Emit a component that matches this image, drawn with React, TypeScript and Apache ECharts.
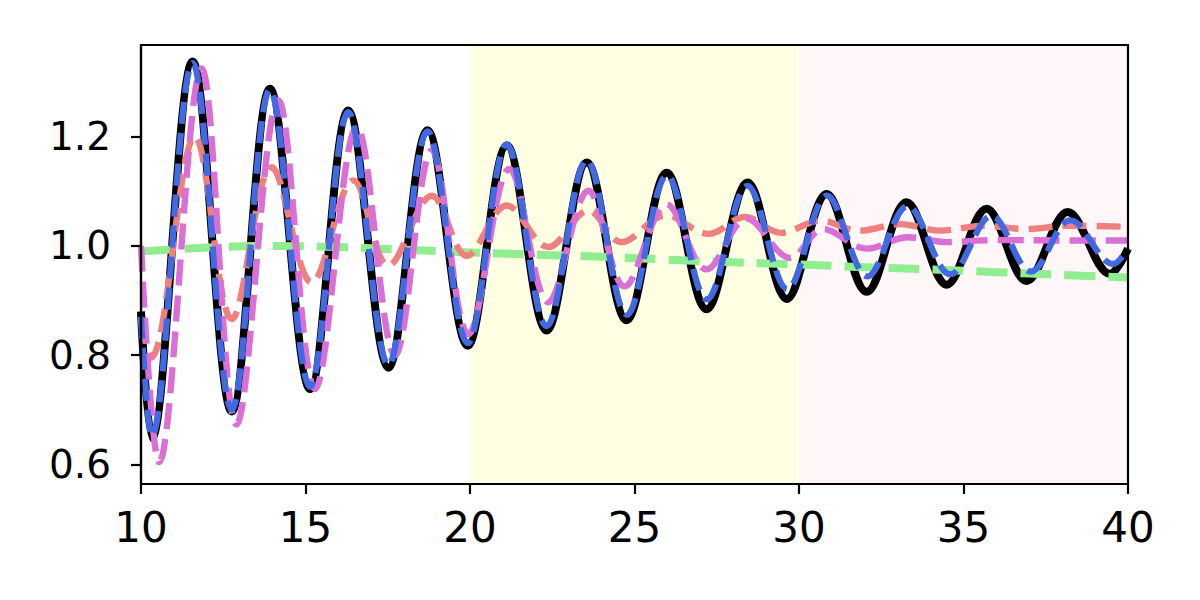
import React, { useEffect, useRef } from "react";
import * as echarts from "echarts";

// Extrema and endpoints: [x, y]
const measured: number[][] = [
  [10, 0.88], [10.33, 0.648], [11.57, 1.338], [12.76, 0.697], [13.92, 1.288],
  [15.14, 0.738], [16.3, 1.248], [17.52, 0.777], [18.71, 1.212], [19.93, 0.817],
  [21.12, 1.184], [22.33, 0.845], [23.55, 1.153], [24.76, 0.864], [25.98, 1.134],
  [27.19, 0.884], [28.44, 1.116], [29.63, 0.903], [30.84, 1.095], [32.06, 0.916],
  [33.27, 1.08], [34.49, 0.929], [35.7, 1.068], [36.92, 0.936], [38.17, 1.062],
  [39.45, 0.949], [40, 0.995],
];

const fitted: number[][] = [
  [10, 0.87], [10.33, 0.652], [11.57, 1.335], [12.76, 0.7], [13.92, 1.286],
  [15.14, 0.742], [16.3, 1.245], [17.52, 0.782], [18.71, 1.21], [19.93, 0.822],
  [21.12, 1.186], [22.33, 0.853], [23.55, 1.157], [24.77, 0.874], [25.99, 1.129],
  [27.2, 0.902], [28.43, 1.11], [29.65, 0.921], [30.85, 1.092], [32.08, 0.944],
  [33.3, 1.073], [34.6, 0.948], [35.85, 1.055], [37.05, 0.953], [38.25, 1.047],
  [39.55, 0.967], [40, 0.995],
];

const orchidLine: number[][] = [
  [10, 1.0], [10.55, 0.604], [11.84, 1.325], [12.9, 0.673], [14.17, 1.267],
  [15.29, 0.738], [16.56, 1.218], [17.72, 0.8], [18.84, 1.175], [19.95, 0.838],
  [21.2, 1.141], [22.38, 0.897], [23.6, 1.101], [24.7, 0.926], [25.98, 1.076],
  [27.19, 0.957], [28.41, 1.05], [29.73, 0.978], [30.74, 1.031], [32.06, 0.995],
  [33.3, 1.016], [34.5, 1.007], [36, 1.011], [38, 1.01], [40, 1.01],
];

const coralLine: number[][] = [
  [10, 0.865], [10.3, 0.795], [11.64, 1.2], [12.76, 0.866], [13.97, 1.144],
  [15.19, 0.933], [16.45, 1.12], [17.52, 0.964], [18.84, 1.092], [19.9, 0.982],
  [21.12, 1.074], [22.38, 0.998], [23.6, 1.065], [24.6, 1.007], [25.95, 1.056],
  [27.25, 1.022], [28.35, 1.053], [29.45, 1.024], [30.64, 1.046], [31.85, 1.028],
  [33.07, 1.04], [34.3, 1.028], [35.6, 1.037], [36.9, 1.031], [38.2, 1.037],
  [40, 1.035],
];

const greenLine: number[][] = [
  [10, 0.99], [12, 0.997], [14, 1.0], [16, 0.998], [18, 0.993], [20, 0.988],
  [22, 0.984], [24, 0.98], [26, 0.975], [28, 0.97], [30, 0.966], [32, 0.961],
  [34, 0.957], [36, 0.952], [38, 0.947], [40, 0.942],
];

const bandStarts = [20, 30];
const bandEnds = [30, 40];
const bandColors = ["#FFFFE3", "#FFF6F7"];

const xTicks = [10, 15, 20, 25, 30, 35, 40];
const yTicks = [0.6, 0.8, 1.0, 1.2];

const FONT = "DejaVu Sans";

export default function App() {
  const ref = useRef<HTMLDivElement>(null);
  useEffect(() => {
    document.body.style.margin = "0";
    const chart = echarts.init(ref.current!, null, { renderer: "svg" });
    const lineSeries = (name: string, data: number[][], color: string, width: number, dash: number[] | "solid") => ({
      name,
      type: "line",
      data,
      showSymbol: false,
      smooth: 0.36,
      z: 3,
      lineStyle: { color, width, type: dash, cap: "butt", join: "round" },
    });
    chart.setOption({
      animation: false,
      backgroundColor: "#ffffff",
      grid: {
        left: 141, right: 72, top: 45, bottom: 116,
        show: true, borderColor: "#000", borderWidth: 2.2, backgroundColor: "transparent", z: 10,
      },
      xAxis: {
        type: "value", min: 10, max: 40, interval: 5,
        axisLine: { show: true, lineStyle: { color: "#000", width: 2.2 } },
        axisTick: { show: true, length: 10, lineStyle: { color: "#000", width: 2.2 }, customValues: xTicks },
        axisLabel: { color: "#000", fontFamily: FONT, fontSize: 42, margin: 22, customValues: xTicks },
        splitLine: { show: false },
        z: 10,
      },
      yAxis: {
        type: "value", min: 0.564, max: 1.368,
        axisLine: { show: true, lineStyle: { color: "#000", width: 2.2 } },
        axisTick: { show: true, length: 10, lineStyle: { color: "#000", width: 2.2 }, customValues: yTicks },
        axisLabel: {
          color: "#000", fontFamily: FONT, fontSize: 39, margin: 30, customValues: yTicks,
          formatter: (v: number) => v.toFixed(1),
        },
        splitLine: { show: false },
        z: 10,
      },
      series: [
        {
          type: "line", data: [], z: 1, silent: true,
          markArea: {
            silent: true,
            data: bandStarts.map((s, i) => [
              { xAxis: s, itemStyle: { color: bandColors[i] } },
              { xAxis: bandEnds[i] },
            ]),
          },
        },
        lineSeries("measured", measured, "#000000", 8, "solid"),
        lineSeries("trend", greenLine, "#90EE90", 8, [31, 13]),
        lineSeries("coral", coralLine, "#F08080", 6.4, [24, 10]),
        lineSeries("orchid", orchidLine, "#DA70D6", 6.4, [26, 10]),
        lineSeries("fit", fitted, "#4169E1", 6.2, [22, 9]),
      ],
    });
    return () => chart.dispose();
  }, []);
  return <div ref={ref} style={{ width: 1200, height: 600 }} />;
}
